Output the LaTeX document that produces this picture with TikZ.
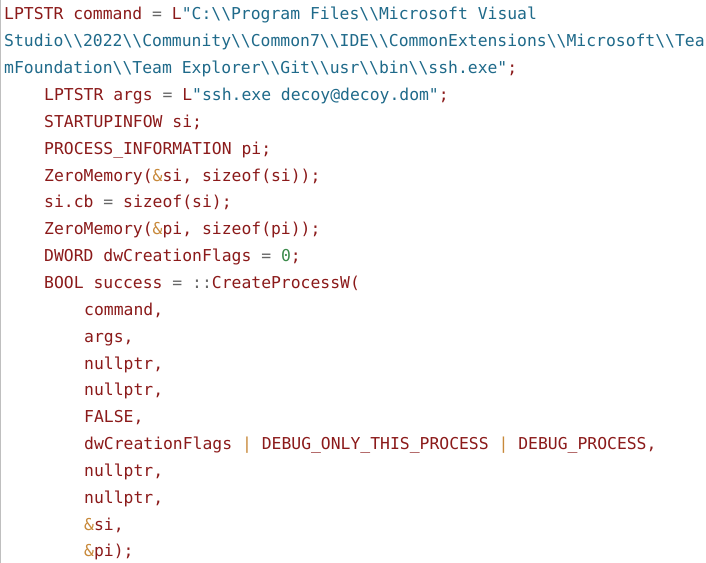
\documentclass[tikz,border=0pt]{standalone}
\usepackage{fontspec}
\newfontfamily\code{DejaVu Sans Mono}
\definecolor{kw}{HTML}{8B1A1A}
\definecolor{str}{HTML}{1F6A8A}
\definecolor{amp}{HTML}{C8893A}
\definecolor{op}{HTML}{666666}
\definecolor{num}{HTML}{3A8A4A}
\newcommand\cS[1]{\textcolor{str}{#1}}
\newcommand\cA[1]{\textcolor{amp}{#1}}
\newcommand\cO[1]{\textcolor{op}{#1}}
\newcommand\cN[1]{\textcolor{num}{#1}}
\newcommand\bsl{\textbackslash\textbackslash}
\tikzset{codeline/.style={anchor=base west,inner sep=0pt,text=kw,font=\code\fontsize{16.45}{20}\selectfont}}
\begin{document}
\begin{tikzpicture}[x=1bp,y=1bp]
\useasboundingbox (0,0) rectangle (706,563);
\fill[white] (0,0) rectangle (706,563);
\draw[gray!50,line width=1.2bp] (0.6,0) -- (0.6,563);
\def\L#1{563-20-26.85*(#1-1)}
\node[codeline] (l1) at (4,{\L1}) {LPTSTR command \cO{=} L\cS{"C:\bsl Program Files\bsl Microsoft Visual}};
\node[codeline] (l2) at (4,{\L2}) {\cS{Studio\bsl 2022\bsl Community\bsl Common7\bsl IDE\bsl CommonExtensions\bsl Microsoft\bsl Tea}};
\node[codeline] (l3) at (4,{\L3}) {\cS{mFoundation\bsl Team Explorer\bsl Git\bsl usr\bsl bin\bsl ssh.exe"};};
\node[codeline] (l4) at (44,{\L4}) {LPTSTR args \cO{=} L\cS{"ssh.exe decoy@decoy.dom"};};
\node[codeline] (l5) at (44,{\L5}) {STARTUPINFOW si;};
\node[codeline] (l6) at (44,{\L6}) {PROCESS\_INFORMATION pi;};
\node[codeline] (l7) at (44,{\L7}) {ZeroMemory(\cA{\&}si, sizeof(si));};
\node[codeline] (l8) at (44,{\L8}) {si.cb \cO{=} sizeof(si);};
\node[codeline] (l9) at (44,{\L9}) {ZeroMemory(\cA{\&}pi, sizeof(pi));};
\node[codeline] (l10) at (44,{\L{10}}) {DWORD dwCreationFlags \cO{=} \cN{0};};
\node[codeline] (l11) at (44,{\L{11}}) {BOOL success \cO{=} \cO{::}CreateProcessW(};
\node[codeline] (l12) at (84,{\L{12}}) {command,};
\node[codeline] (l13) at (84,{\L{13}}) {args,};
\node[codeline] (l14) at (84,{\L{14}}) {nullptr,};
\node[codeline] (l15) at (84,{\L{15}}) {nullptr,};
\node[codeline] (l16) at (84,{\L{16}}) {FALSE,};
\node[codeline] (l17) at (84,{\L{17}}) {dwCreationFlags \cA{|} DEBUG\_ONLY\_THIS\_PROCESS \cA{|} DEBUG\_PROCESS,};
\node[codeline] (l18) at (84,{\L{18}}) {nullptr,};
\node[codeline] (l19) at (84,{\L{19}}) {nullptr,};
\node[codeline] (l20) at (84,{\L{20}}) {\cA{\&}si,};
\node[codeline] (l21) at (84,{\L{21}}) {\cA{\&}pi);};
\end{tikzpicture}
\end{document}
